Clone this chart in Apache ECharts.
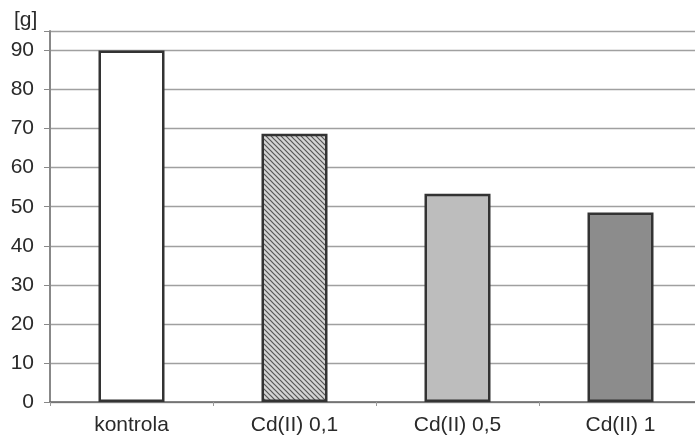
<!DOCTYPE html>
<html lang="pl">
<head>
    <meta charset="UTF-8">
    <title>Masa</title>
    <script src="https://cdn.jsdelivr.net/npm/echarts@6/dist/echarts.min.js"></script>
    <style>
        html, body { margin: 0; padding: 0; background: #fff; overflow: hidden; }
        /* wykres szerszy niz okno - prawa krawedz obcieta jak w oryginale */
        #main { width: 704px; height: 443px; }
    </style>
</head>
<body>
    <div id="main"></div>
    <script>
        // dane
        var categories = ['kontrola', 'Cd(II) 0,1', 'Cd(II) 0,5', 'Cd(II) 1'];
        var values = [90, 68.7, 53.3, 48.5];
        var yTicks = [0, 10, 20, 30, 40, 50, 60, 70, 80, 90];

        // wzor kreskowany dla drugiego slupka
        function hatch() {
            var c = document.createElement('canvas');
            c.width = 5; c.height = 5;
            var ctx = c.getContext('2d');
            ctx.fillStyle = '#d4d4d4';
            ctx.fillRect(0, 0, 5, 5);
            ctx.strokeStyle = '#555';
            ctx.lineWidth = 1.2;
            ctx.beginPath();
            ctx.moveTo(-1, -1); ctx.lineTo(6, 6);
            ctx.moveTo(-1, 4); ctx.lineTo(1, 6);
            ctx.moveTo(4, -1); ctx.lineTo(6, 1);
            ctx.stroke();
            return { image: c, repeat: 'repeat' };
        }

        var fills = ['#ffffff', hatch(), '#bdbdbd', '#8c8c8c'];

        var chart = echarts.init(document.getElementById('main'));
        chart.setOption({
            animation: false,
            textStyle: { fontFamily: 'Liberation Sans, Arial, sans-serif' },
            title: {
                text: '[g]',
                left: 9, top: 5,
                textStyle: { fontSize: 21, fontWeight: 'normal', color: '#2a2a2a' }
            },
            grid: { left: 50, top: 31, width: 652, height: 371 },
            xAxis: {
                type: 'category',
                data: categories,
                axisLine: { lineStyle: { color: '#666', width: 1.5 } },
                axisTick: { show: true, length: 4, lineStyle: { color: '#999' } },
                axisLabel: { fontSize: 21, color: '#2a2a2a', margin: 13 }
            },
            yAxis: {
                type: 'value',
                min: 0, max: 95, interval: 10,
                axisLine: { show: true, lineStyle: { color: '#888', width: 2 } },
                axisTick: { show: true, length: 6, lineStyle: { color: '#888' } },
                axisLabel: {
                    fontSize: 21, color: '#2a2a2a', margin: 16,
                    formatter: function (v) { return yTicks.indexOf(v) >= 0 ? v : ''; }
                },
                splitLine: { lineStyle: { color: '#a0a0a0', width: 1.3 } }
            },
            series: [{
                type: 'bar',
                barWidth: 66,
                data: values.map(function (v, i) {
                    return {
                        value: v,
                        itemStyle: { color: fills[i], borderColor: '#333', borderWidth: 2.5 }
                    };
                })
            }]
        });
    </script>
</body>
</html>
